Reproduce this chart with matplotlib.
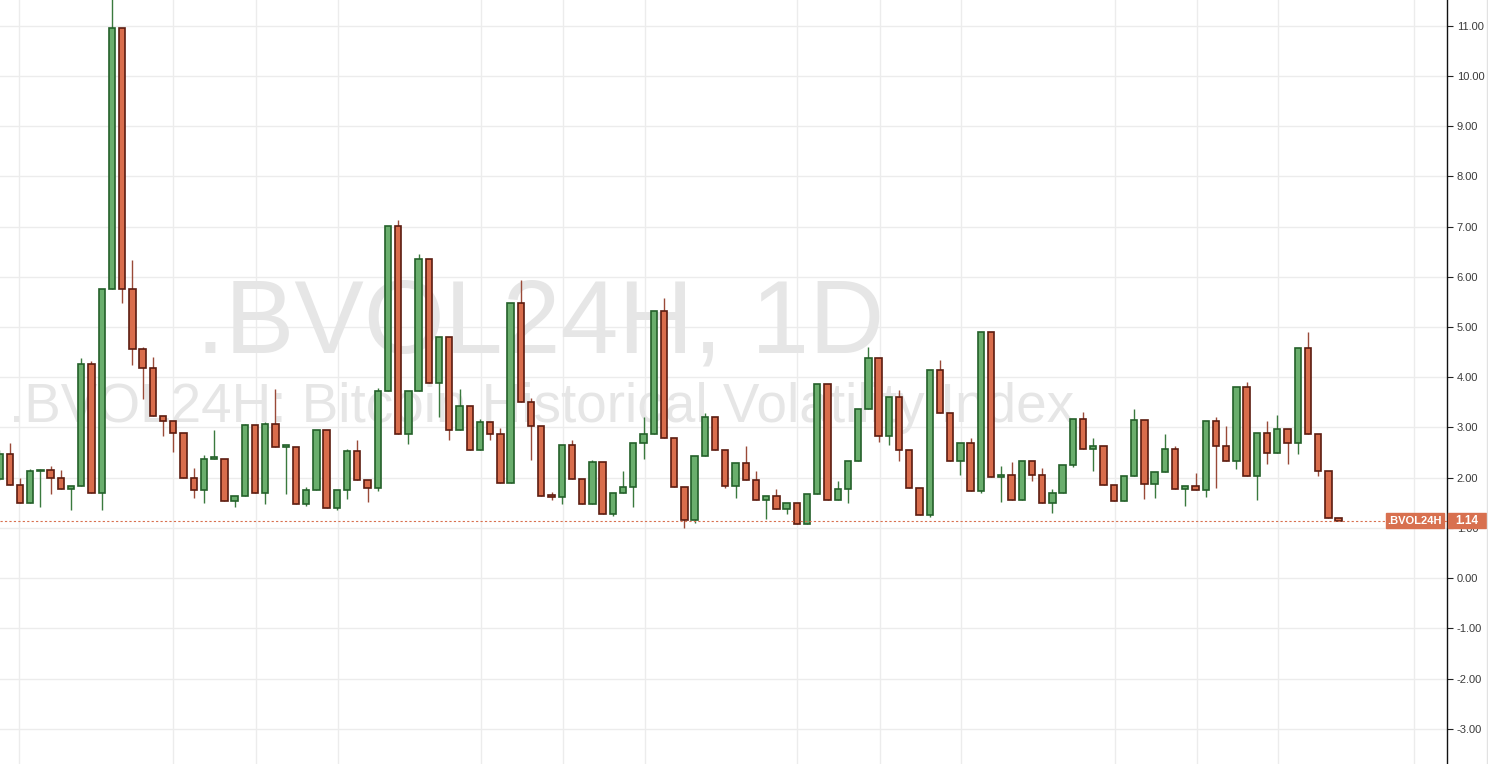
# Candlestick chart of the .BVOL24H daily index, TradingView-like look.

import matplotlib
matplotlib.use("Agg")
import matplotlib.pyplot as plt
from matplotlib.patches import Rectangle
from matplotlib.lines import Line2D

plt.rcParams['font.family'] = ['Liberation Sans', 'DejaVu Sans']

opens = [1.97, 2.48, 1.86, 1.49, 2.13, 2.16, 1.99, 1.77, 1.83, 4.27,
         1.70, 5.75, 10.95, 5.75, 4.56, 4.19, 3.22, 3.12, 2.88, 1.99,
         1.75, 2.38, 2.38, 1.53, 1.63, 3.04, 1.69, 3.07, 2.62, 2.62,
         1.48, 1.76, 2.94, 1.40, 1.76, 2.54, 1.96, 1.80, 3.72, 7.02,
         2.87, 3.72, 6.36, 3.88, 4.80, 2.95, 3.43, 2.56, 3.10, 2.87,
         1.90, 5.48, 3.51, 3.03, 1.63, 1.62, 2.66, 1.97, 1.47, 2.31,
         1.27, 1.70, 1.82, 2.69, 2.86, 5.32, 2.80, 1.82, 1.15, 2.43,
         3.20, 2.55, 1.84, 2.30, 1.95, 1.56, 1.64, 1.38, 1.50, 1.07,
         1.68, 3.87, 1.56, 1.78, 2.33, 3.37, 4.39, 2.83, 3.61, 2.56,
         1.80, 1.25, 4.15, 3.29, 2.34, 2.70, 1.73, 4.90, 2.01, 2.06,
         1.56, 2.33, 2.06, 1.50, 1.70, 2.26, 3.17, 2.58, 2.63, 1.86,
         1.53, 2.03, 3.14, 1.87, 2.12, 2.58, 1.78, 1.84, 1.76, 3.13,
         2.64, 2.33, 3.80, 2.03, 2.88, 2.50, 2.96, 2.70, 4.59, 2.86,
         2.14, 1.20]
highs = [2.55, 2.69, 1.99, 2.17, 2.17, 2.24, 2.16, 1.83, 4.38, 4.32,
         5.75, 11.80, 10.95, 6.33, 4.60, 4.40, 3.22, 3.12, 2.88, 2.19,
         2.46, 2.95, 2.38, 1.63, 3.06, 3.04, 3.10, 3.77, 2.64, 2.62,
         1.81, 2.94, 2.94, 1.76, 2.57, 2.75, 1.96, 3.79, 7.02, 7.13,
         3.72, 6.46, 6.36, 4.80, 4.80, 3.77, 3.43, 3.17, 3.10, 2.98,
         5.48, 5.93, 3.58, 3.03, 1.72, 2.66, 2.75, 1.97, 2.36, 2.31,
         1.70, 2.14, 2.69, 3.21, 5.32, 5.57, 2.80, 1.82, 2.43, 3.29,
         3.20, 2.55, 2.30, 2.64, 2.13, 1.64, 1.78, 1.50, 1.50, 1.68,
         3.87, 3.87, 1.93, 2.33, 3.37, 4.60, 4.39, 3.61, 3.74, 2.56,
         1.80, 4.15, 4.34, 3.29, 2.70, 2.80, 4.90, 4.90, 2.24, 2.31,
         2.33, 2.33, 2.20, 1.77, 2.26, 3.17, 3.31, 2.79, 2.63, 1.86,
         2.03, 3.37, 3.14, 2.12, 2.86, 2.64, 1.84, 2.09, 3.13, 3.21,
         3.03, 3.80, 3.90, 2.88, 3.13, 3.25, 2.96, 4.59, 4.91, 2.86,
         2.14, 1.20]
lows = [1.95, 1.86, 1.49, 1.49, 1.41, 1.67, 1.77, 1.36, 1.83, 1.70,
        1.36, 5.75, 5.47, 4.24, 3.57, 3.22, 2.83, 2.51, 1.99, 1.59,
        1.50, 2.38, 1.53, 1.42, 1.63, 1.69, 1.48, 2.61, 1.68, 1.48,
        1.44, 1.76, 1.40, 1.35, 1.58, 1.96, 1.51, 1.73, 3.72, 2.87,
        2.67, 3.72, 3.88, 3.21, 2.75, 2.95, 2.56, 2.56, 2.75, 1.90,
        1.90, 3.51, 2.36, 1.63, 1.56, 1.47, 1.97, 1.47, 1.47, 1.27,
        1.23, 1.70, 1.41, 2.37, 2.86, 2.80, 1.82, 0.99, 1.09, 2.43,
        2.55, 1.80, 1.60, 1.95, 1.56, 1.18, 1.38, 1.28, 1.07, 1.07,
        1.68, 1.56, 1.56, 1.50, 2.33, 3.37, 2.71, 2.66, 2.34, 1.80,
        1.25, 1.22, 3.29, 2.34, 2.05, 1.73, 1.69, 2.01, 1.52, 1.56,
        1.56, 1.93, 1.50, 1.30, 1.70, 2.21, 2.58, 2.13, 1.86, 1.53,
        1.53, 2.03, 1.57, 1.60, 2.12, 1.78, 1.43, 1.76, 1.61, 1.79,
        2.33, 2.18, 2.03, 1.55, 2.28, 2.50, 2.28, 2.48, 2.86, 2.04,
        1.20, 1.14]
closes = [2.48, 1.86, 1.49, 2.13, 2.16, 1.99, 1.77, 1.83, 4.27, 1.70,
          5.75, 10.95, 5.75, 4.56, 4.19, 3.22, 3.12, 2.88, 1.99, 1.75,
          2.38, 2.38, 1.53, 1.63, 3.04, 1.69, 3.07, 2.61, 2.62, 1.48,
          1.76, 2.94, 1.40, 1.76, 2.54, 1.96, 1.80, 3.72, 7.02, 2.87,
          3.72, 6.36, 3.88, 4.80, 2.95, 3.43, 2.56, 3.10, 2.87, 1.90,
          5.48, 3.51, 3.03, 1.63, 1.62, 2.66, 1.97, 1.47, 2.31, 1.27,
          1.70, 1.82, 2.69, 2.86, 5.32, 2.80, 1.82, 1.15, 2.43, 3.20,
          2.55, 1.84, 2.30, 1.95, 1.56, 1.64, 1.38, 1.50, 1.07, 1.68,
          3.87, 1.56, 1.78, 2.33, 3.37, 4.39, 2.83, 3.61, 2.56, 1.80,
          1.25, 4.15, 3.29, 2.34, 2.70, 1.73, 4.90, 2.01, 2.06, 1.56,
          2.33, 2.06, 1.50, 1.70, 2.26, 3.17, 2.58, 2.63, 1.86, 1.53,
          2.03, 3.14, 1.87, 2.12, 2.58, 1.78, 1.84, 1.76, 3.13, 2.64,
          2.33, 3.80, 2.03, 2.88, 2.50, 2.96, 2.70, 4.59, 2.86, 2.14,
          1.20, 1.14]
last_value = 1.14
y_ticks = list(range(-3, 12))

# styling
UP_FILL, UP_EDGE = '#6aae6d', '#24602a'
DN_FILL, DN_EDGE = '#d96d4c', '#5c1c10'
UP_WICK, DN_WICK = '#3a7a3e', '#9a4a38'
GRID = '#ececec'
PRICE = '#d8704f'
grid_x = [1.9, 17.0, 25.1, 33.1, 47.1, 55.1, 63.1, 78.0, 86.1, 94.1,
          109.1, 117.1, 125.1, 138.4]

W, H = 1488, 764
fig = plt.figure(figsize=(W / 100, H / 100), dpi=100)
ax = fig.add_axes([0, 0, 1447 / W, 1])

for i in range(len(opens)):
    o, h, l, c = opens[i], highs[i], lows[i], closes[i]
    up = c >= o
    ax.vlines(i, l, h, color=UP_WICK if up else DN_WICK, lw=1, zorder=2)
    bottom = min(o, c)
    height = max(abs(c - o), 0.03)
    ax.bar(i, height, bottom=bottom, width=0.62,
           color=UP_FILL if up else DN_FILL,
           edgecolor=UP_EDGE if up else DN_EDGE, linewidth=1.2, zorder=3)

ax.axhline(last_value, color=PRICE, ls=(0, (2, 2)), lw=0.8, zorder=4)

for gx in grid_x:
    ax.axvline(gx, color=GRID, lw=1, zorder=0)
ax.set_yticks(y_ticks)
ax.set_yticklabels(['%.2f' % t for t in y_ticks])
ax.yaxis.grid(True, color=GRID, lw=1, zorder=0)
ax.set_axisbelow(True)

ax.set_xlim(0.05, 141.6)
ax.set_ylim(-3.70, 11.51)
ax.yaxis.tick_right()
ax.tick_params(axis='y', length=4, width=0.8, color='#222222',
               labelsize=8, labelcolor='#3a3a3a', pad=3)
ax.set_xticks([])
for side in ['left', 'top', 'bottom']:
    ax.spines[side].set_visible(False)
ax.spines['right'].set_color('#111111')
ax.spines['right'].set_linewidth(1)

# watermark
ax.text(540 / 1447, (H - 352) / H, '.BVOL24H, 1D', transform=ax.transAxes,
        ha='center', va='baseline', fontsize=75, color='#e6e6e6', zorder=1)
ax.text(542 / 1447, (H - 422) / H, '.BVOL24H: Bitcoin Historical Volatility Index',
        transform=ax.transAxes, ha='center', va='baseline', fontsize=39.5,
        color='#e6e6e6', zorder=1)

# last value labels
fig.patches.append(Rectangle((1386 / W, (H - 528) / H), 58 / W, 15 / H,
                             transform=fig.transFigure, color=PRICE))
fig.patches.append(Rectangle((1448 / W, (H - 528) / H), 38 / W, 15 / H,
                             transform=fig.transFigure, color=PRICE))
fig.text(1415 / W, (H - 520.5) / H, '.BVOL24H', ha='center', va='center',
         fontsize=8, fontweight='bold', color='white')
fig.text(1467 / W, (H - 520.5) / H, '%.2f' % last_value, ha='center', va='center',
         fontsize=8.5, fontweight='bold', color='white')
fig.lines.append(Line2D([1486.5 / W, 1486.5 / W], [0, 1], transform=fig.transFigure,
                        color='#e2e2e2', lw=1))

fig.savefig('out.png', dpi=100)
